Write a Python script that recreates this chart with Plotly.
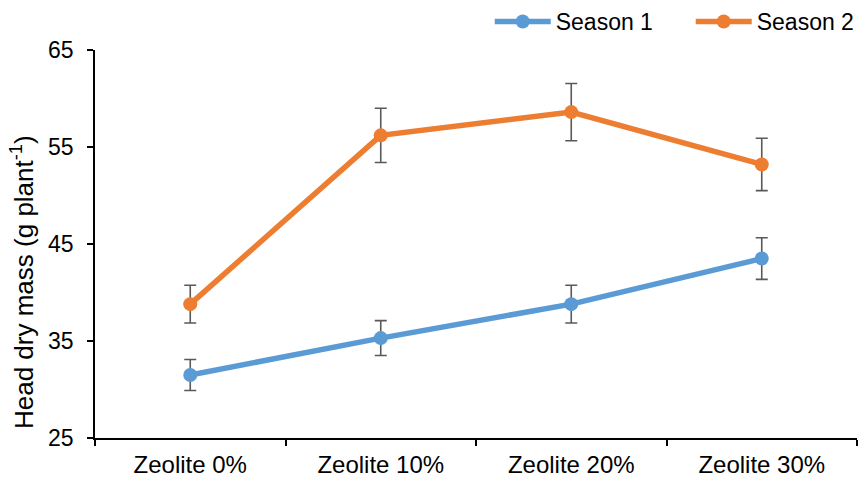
import plotly.graph_objects as go

categories = ["Zeolite 0%", "Zeolite 10%", "Zeolite 20%", "Zeolite 30%"]
season1 = [31.5, 35.3, 38.8, 43.5]
season1_err = [1.6, 1.8, 1.95, 2.15]
season2 = [38.8, 56.2, 58.6, 53.2]
season2_err = [1.95, 2.8, 2.95, 2.7]
y_ticks = [25, 35, 45, 55, 65]

FONT = "Liberation Sans, Arial, sans-serif"
err_style = dict(type="data", visible=True, color="#595959", thickness=1.6, width=6)

fig = go.Figure()
fig.add_trace(go.Scatter(
    x=categories, y=season1, name="Season 1", mode="lines+markers",
    line=dict(color="#5B9BD5", width=5.5), marker=dict(size=14, color="#5B9BD5"),
    error_y=dict(array=season1_err, **err_style),
))
fig.add_trace(go.Scatter(
    x=categories, y=season2, name="Season 2", mode="lines+markers",
    line=dict(color="#ED7D31", width=5.5), marker=dict(size=14, color="#ED7D31"),
    error_y=dict(array=season2_err, **err_style),
))

# y-axis title drawn as a rotated annotation so it can sit lower along the axis
fig.add_annotation(
    text="Head dry mass (g plant<sup>-1</sup>)", textangle=-90,
    xref="paper", yref="paper", x=-0.0958, y=0.402,
    xanchor="center", yanchor="middle", showarrow=False,
    font=dict(size=26, family=FONT, color="#000000"),
)

fig.update_layout(
    width=860, height=481,
    margin=dict(l=95, r=3, t=50, b=43, autoexpand=False),
    paper_bgcolor="white", plot_bgcolor="white",
    font=dict(family=FONT, size=23, color="#000000"),
    showlegend=True,
    legend=dict(orientation="h", x=0.518, xanchor="left", y=1.0, yanchor="top",
                yref="container", font=dict(size=23), itemwidth=56,
                entrywidth=130, entrywidthmode="pixels",
                traceorder="normal", bgcolor="rgba(0,0,0,0)"),
    xaxis=dict(
        type="category", showline=True, linecolor="#000000", linewidth=1.5,
        ticks="outside", tickson="boundaries", ticklen=6, tickcolor="#000000",
        tickwidth=1.5, showgrid=False, tickfont=dict(size=24), automargin=False,
        range=[-0.5, 3.5], ticklabelstandoff=4,
    ),
    yaxis=dict(
        range=[25, 65], tickvals=y_ticks, showline=True, linecolor="#000000",
        linewidth=1.5, ticks="outside", ticklen=6, tickcolor="#000000",
        tickwidth=1.5, showgrid=False, zeroline=False, tickfont=dict(size=23),
        automargin=False, ticklabelstandoff=9,
    ),
)

fig.write_html("out.html")
